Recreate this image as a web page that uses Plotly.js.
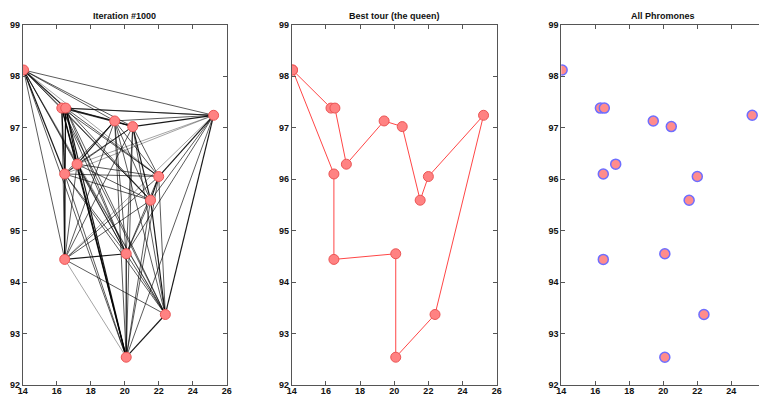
<!DOCTYPE html>
<html>
<head>
<meta charset="utf-8">
<script src="https://cdn.plot.ly/plotly-3.0.1.min.js"></script>
<style>html,body{margin:0;padding:0;background:#fff;}#chart{width:759px;height:395px;}</style>
</head>
<body>
<div id="chart"></div>
<script>
// City coordinates (burma14)
const cityX = [16.47, 16.47, 20.09, 22.39, 25.23, 22.00, 20.47, 17.20, 16.30, 14.05, 16.53, 21.52, 19.41, 20.09];
const cityY = [96.10, 94.44, 92.54, 93.37, 97.24, 96.05, 97.02, 96.29, 97.38, 98.12, 97.38, 95.59, 97.13, 94.55];

// Best tour (1-based city numbers)
const bestTour = [10, 9, 11, 8, 13, 7, 12, 6, 5, 4, 3, 14, 2, 1, 10];

// Pheromone edges (1-based city numbers) and their visual strength (1 light .. 3 dark)
const edgeFrom = [1,1,1,1,1,1,1,1,1,1,1,1,1, 2,2,2,2,2,2,2,2,2,2,2,2, 3,3,3,3,3,3,3,3,3,3,3, 4,4,4,4,4,4,4,4,4,4, 5,5,5,5,5,5,5,5,5, 6,6,6,6,6,6,6,6, 7,7,7,7,7,7,7, 8,8,8,8,8,8, 9,9,9,9,9, 10,10,10,10, 11,11,11, 12,12, 13];
const edgeTo   = [2,3,4,5,6,7,8,9,10,11,12,13,14, 3,4,5,6,7,8,9,10,11,12,13,14, 4,5,6,7,8,9,10,11,12,13,14, 5,6,7,8,9,10,11,12,13,14, 6,7,8,9,10,11,12,13,14, 7,8,9,10,11,12,13,14, 8,9,10,11,12,13,14, 9,10,11,12,13,14, 10,11,12,13,14, 11,12,13,14, 12,13,14, 13,14, 14];
const edgeLevel = [3,2,2,1,2,2,2,3,3,3,2,2,2, 1,2,1,2,2,2,2,2,2,2,2,3, 3,2,2,2,3,3,2,3,2,2,3, 3,2,2,2,2,1,2,3,2,2, 3,3,1,2,2,2,2,2,2, 2,2,2,1,2,3,2,2, 2,2,2,2,3,3,2, 3,2,3,2,3,2, 2,3,2,2,2, 3,2,2,2, 2,2,2, 2,2, 2];

const titles = ['Iteration #1000', 'Best tour (the queen)', 'All Phromones'];
const xTicks = [14, 16, 18, 20, 22, 24, 26];
const yTicks = [92, 93, 94, 95, 96, 97, 98, 99];

const levelStyle = {
  1: {color: 'rgba(0,0,0,0.45)', width: 0.8},
  2: {color: 'rgba(0,0,0,0.72)', width: 0.9},
  3: {color: 'rgba(0,0,0,0.9)', width: 1.2}
};

const traces = [];
[1, 2, 3].forEach(function (lv) {
  const xs = [], ys = [];
  for (let i = 0; i < edgeFrom.length; i++) {
    if (edgeLevel[i] !== lv) continue;
    const a = edgeFrom[i] - 1, b = edgeTo[i] - 1;
    xs.push(cityX[a], cityX[b], null);
    ys.push(cityY[a], cityY[b], null);
  }
  traces.push({x: xs, y: ys, xaxis: 'x', yaxis: 'y', mode: 'lines', type: 'scatter',
    line: levelStyle[lv], hoverinfo: 'skip', showlegend: false});
});

const markerRed = {size: 10, color: 'rgb(255,130,130)', line: {color: 'rgb(235,85,85)', width: 1}};

traces.push({x: cityX, y: cityY, xaxis: 'x', yaxis: 'y', mode: 'markers', type: 'scatter',
  marker: markerRed, showlegend: false});

traces.push({x: bestTour.map(c => cityX[c - 1]), y: bestTour.map(c => cityY[c - 1]),
  xaxis: 'x2', yaxis: 'y2', mode: 'lines+markers', type: 'scatter',
  line: {color: 'rgb(255,70,70)', width: 1}, marker: markerRed, showlegend: false});

traces.push({x: cityX, y: cityY, xaxis: 'x3', yaxis: 'y3', mode: 'markers', type: 'scatter',
  marker: {size: 10, color: 'rgb(255,140,140)', line: {color: 'rgb(110,110,255)', width: 1.5}}, showlegend: false});

const W = 759, H = 395;
const panelsPx = [[22.7, 226.7], [291.7, 496.7], [561.3, 759]];
const yDom = [(H - 385) / H, (H - 24.7) / H];
const tickFont = {family: 'Liberation Sans, Arial, sans-serif', size: 9, color: '#111', weight: 'bold'};

function xa(i) {
  const px = panelsPx[i];
  const hi = i === 2 ? 14 + (px[1] - px[0]) / 17 : 26;
  return {domain: [px[0] / W, px[1] / W], range: [14, hi], tickvals: xTicks, ticktext: xTicks.map(String),
    ticks: 'inside', ticklen: 4, tickcolor: '#555', showline: true, linecolor: '#555', linewidth: 1,
    mirror: 'ticks', showgrid: false, zeroline: false, tickfont: tickFont, ticklabelstandoff: -3,
    anchor: i === 0 ? 'y' : 'y' + (i + 1), fixedrange: true};
}
function ya(i) {
  return {domain: yDom, range: [92, 99], tickvals: yTicks, ticktext: yTicks.map(String),
    ticks: 'inside', ticklen: 4, tickcolor: '#555', showline: true, linecolor: '#555', linewidth: 1,
    mirror: i === 2 ? false : 'ticks', showgrid: false, zeroline: false, tickfont: tickFont, ticklabelstandoff: 0,
    anchor: i === 0 ? 'x' : 'x' + (i + 1), fixedrange: true};
}

const annotations = titles.map(function (t, i) {
  const px = panelsPx[i];
  const cx = i === 2 ? 663 : (px[0] + px[1]) / 2;
  return {text: t, xref: 'paper', yref: 'paper', x: cx / W, y: (H - 15.7) / H, xanchor: 'center', yanchor: 'middle',
    showarrow: false, font: {family: 'Liberation Sans, Arial, sans-serif', size: 9, color: '#111', weight: 'bold'}};
});

const layout = {
  width: W, height: H, margin: {l: 0, r: 0, t: 0, b: 0}, paper_bgcolor: '#fff', plot_bgcolor: '#fff',
  showlegend: false, annotations: annotations,
  xaxis: xa(0), yaxis: ya(0), xaxis2: xa(1), yaxis2: ya(1), xaxis3: xa(2), yaxis3: ya(2)
};

Plotly.newPlot('chart', traces, layout, {displayModeBar: false, staticPlot: true});
</script>
</body>
</html>
